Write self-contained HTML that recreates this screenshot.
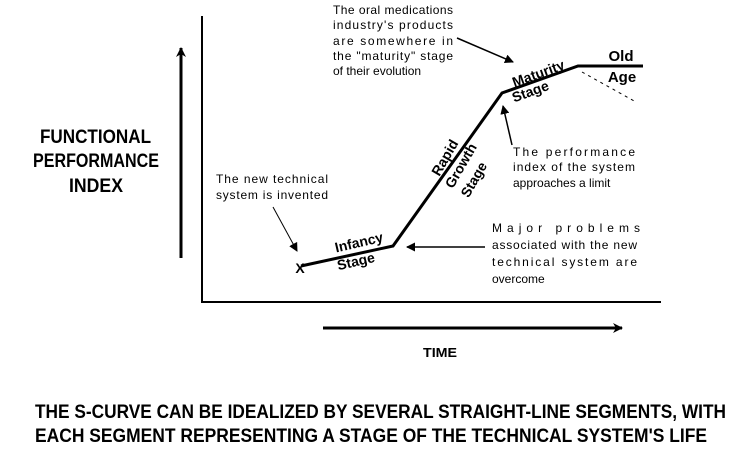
<!DOCTYPE html>
<html><head><style>
html,body{margin:0;padding:0;background:#fff;}
svg{display:block;}
.s{font-family:"Liberation Sans",sans-serif;font-size:12px;fill:#000;}
.b{font-family:"Liberation Sans",sans-serif;font-weight:bold;font-size:14px;fill:#000;}
.h{font-family:"Liberation Sans",sans-serif;font-weight:bold;font-size:19px;fill:#000;}
</style></head><body>
<svg width="730" height="449" viewBox="0 0 730 449" xmlns="http://www.w3.org/2000/svg">
<defs>
<marker id="a" markerWidth="9" markerHeight="9" refX="8" refY="4.5" orient="auto" markerUnits="userSpaceOnUse"><path d="M0,0 L9,4.5 L0,9 Z" fill="#000"/></marker>
<marker id="t" markerWidth="10" markerHeight="10" refX="9" refY="5" orient="auto" markerUnits="userSpaceOnUse"><path d="M0,0 L10,5 L0,10 L3,5 Z" fill="#000"/></marker>
</defs>
<line x1="202" y1="16" x2="202" y2="303" stroke="#000" stroke-width="2"/>
<line x1="201" y1="302" x2="661" y2="302" stroke="#000" stroke-width="2"/>
<line x1="181" y1="258" x2="181" y2="48" stroke="#000" stroke-width="3" marker-end="url(#t)"/>
<line x1="323" y1="328" x2="622" y2="328" stroke="#000" stroke-width="3" marker-end="url(#t)"/>
<polyline points="301,266 393,246 502,93 578,66 643,66" fill="none" stroke="#000" stroke-width="3"/>
<line x1="582" y1="72" x2="636" y2="102" stroke="#000" stroke-width="1" stroke-dasharray="3,4"/>
<text x="300" y="273" class="b" text-anchor="middle" font-size="16">X</text>
<line x1="273" y1="207" x2="297" y2="251" stroke="#000" stroke-width="1" marker-end="url(#a)"/>
<line x1="457" y1="38" x2="513" y2="62" stroke="#000" stroke-width="1.5" marker-end="url(#a)"/>
<line x1="512" y1="145" x2="503" y2="106" stroke="#000" stroke-width="1.5" marker-end="url(#a)"/>
<line x1="485" y1="247" x2="407" y2="247" stroke="#000" stroke-width="1.5" marker-end="url(#a)"/>
<g class="s">
<text x="333" y="14" textLength="120">The oral medications</text>
<text x="333" y="29" textLength="120">industry's products</text>
<text x="333" y="45" textLength="120">are somewhere in</text>
<text x="333" y="60" textLength="120">the "maturity" stage</text>
<text x="333" y="75">of their evolution</text>
<text x="216" y="183" textLength="112">The new technical</text>
<text x="216" y="199" textLength="112">system is invented</text>
<text x="513" y="156" textLength="122">The performance</text>
<text x="513" y="171" textLength="122">index of the system</text>
<text x="513" y="187">approaches a limit</text>
<text x="492" y="232" textLength="148">Major problems</text>
<text x="492" y="249" textLength="145">associated with the new</text>
<text x="492" y="266" textLength="145">technical system are</text>
<text x="492" y="283">overcome</text>
</g>
<g class="b">
<text transform="translate(360,247) rotate(-13)" text-anchor="middle">Infancy</text>
<text transform="translate(357,266) rotate(-13)" text-anchor="middle">Stage</text>
<text transform="translate(449,160) rotate(-60)" text-anchor="middle">Rapid</text>
<text transform="translate(465,168) rotate(-60)" text-anchor="middle">Growth</text>
<text transform="translate(478,182) rotate(-60)" text-anchor="middle">Stage</text>
<text transform="translate(540,78) rotate(-20)" text-anchor="middle">Maturity</text>
<text transform="translate(532,96) rotate(-20)" text-anchor="middle">Stage</text>
<text x="621" y="61" text-anchor="middle" font-size="15">Old</text>
<text x="622" y="82" text-anchor="middle" font-size="15">Age</text>
</g>
<g class="h">
<text x="40" y="143" textLength="111" lengthAdjust="spacingAndGlyphs">FUNCTIONAL</text>
<text x="33" y="167" textLength="126" lengthAdjust="spacingAndGlyphs">PERFORMANCE</text>
<text x="69" y="192" textLength="54" lengthAdjust="spacingAndGlyphs">INDEX</text>
<text x="423" y="357" font-size="13" textLength="34" lengthAdjust="spacingAndGlyphs">TIME</text>
<text x="35" y="418" textLength="691" lengthAdjust="spacingAndGlyphs">THE S-CURVE CAN BE IDEALIZED BY SEVERAL STRAIGHT-LINE SEGMENTS, WITH</text>
<text x="35" y="442" textLength="672" lengthAdjust="spacingAndGlyphs">EACH SEGMENT REPRESENTING A STAGE OF THE TECHNICAL SYSTEM'S LIFE</text>
</g>
</svg>
</body></html>
